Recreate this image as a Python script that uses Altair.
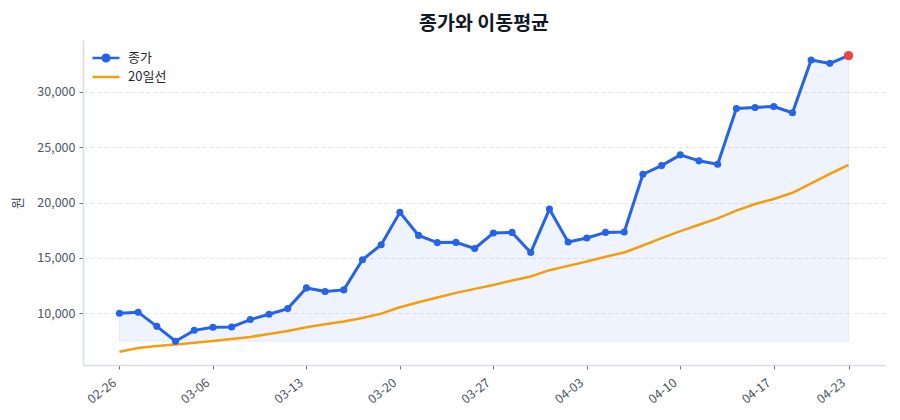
import altair as alt
import pandas as pd

dates = ["02-26", "02-27", "02-28", "03-04", "03-05", "03-06", "03-07", "03-10", "03-11", "03-12",
         "03-13", "03-14", "03-17", "03-18", "03-19", "03-20", "03-21", "03-24", "03-25", "03-26",
         "03-27", "03-28", "03-31", "04-01", "04-02", "04-03", "04-04", "04-07", "04-08", "04-09",
         "04-10", "04-11", "04-14", "04-15", "04-16", "04-17", "04-18", "04-21", "04-22", "04-23"]
close = [10000, 10100, 8820, 7480, 8460, 8730, 8760, 9430, 9910, 10420,
         12290, 11960, 12110, 14830, 16190, 19110, 17030, 16380, 16400, 15850,
         17240, 17300, 15490, 19410, 16430, 16790, 17300, 17330, 22550, 23330,
         24300, 23760, 23460, 28490, 28580, 28670, 28100, 32870, 32560, 33260]
ma20 = [6530, 6860, 7040, 7170, 7330, 7490, 7680, 7860, 8130, 8400,
        8730, 9000, 9250, 9580, 9970, 10540, 10990, 11420, 11840, 12200,
        12560, 12960, 13320, 13890, 14280, 14680, 15100, 15490, 16120, 16790,
        17420, 17990, 18570, 19260, 19860, 20320, 20880, 21720, 22580, 23400]
x_tick_idx = [0, 5, 10, 15, 20, 25, 30, 35, 39]
y_ticks = [10000, 15000, 20000, 25000, 30000]
series_names = ["종가", "20일선"]

FONT = "Noto Sans CJK KR"
BLUE = "#2563eb"
ORANGE = "#f59e0b"
RED = "#ef4444"

df = pd.DataFrame({"idx": list(range(len(dates))), "date": dates, "close": close, "ma20": ma20})
df["series"] = series_names[0]
last = df.iloc[[-1]]

label_arr = "[" + ",".join("'%s'" % d for d in dates) + "]"
xscale = alt.Scale(domain=[-1.95, 40.95], nice=False, zero=False)
xaxis = alt.Axis(values=x_tick_idx, labelExpr=label_arr + "[datum.value]", labelAngle=-38,
                 labelAlign="right", labelBaseline="top", labelOffset=-9, labelPadding=7,
                 grid=False, title=None)
xenc = alt.X("idx:Q", scale=xscale, axis=xaxis)
yscale = alt.Scale(domain=[5330, 34670], nice=False, zero=False)
yaxis = alt.Axis(values=y_ticks, format=",.0f", title="원", titleAngle=-90,
                 titlePadding=12, labelPadding=4, grid=True)


def yenc(field):
    return alt.Y(field, scale=yscale, axis=yaxis)


base = alt.Chart(df)

area = base.transform_joinaggregate(mn="min(close)").mark_area(
    color=BLUE, fillOpacity=0.08, stroke=BLUE, strokeOpacity=0.08, strokeWidth=1
).encode(x=xenc, y=yenc("close:Q"), y2="mn:Q")

ma_line = base.mark_line(color=ORANGE, strokeWidth=2.5).encode(x=xenc, y=yenc("ma20:Q"))

close_line = base.mark_line(color=BLUE, strokeWidth=3).encode(x=xenc, y=yenc("close:Q"))

close_pts = base.mark_circle(color=BLUE, size=50, opacity=1).encode(x=xenc, y=yenc("close:Q"))

last_pt = alt.Chart(last).mark_circle(color=RED, size=85, opacity=1).encode(
    x=xenc, y=yenc("close:Q"))

leg_paths = ["M-2,0L2,0M-0.5,0A0.5,0.5,0,1,1,0.5,0A0.5,0.5,0,1,1,-0.5,0Z", "M-2,0L2,0"]
leg = alt.Legend(title=None, orient="none", legendX=15, legendY=10, padding=0,
                 labelFontSize=13, labelColor="#1f2937", labelFont=FONT,
                 symbolSize=182, symbolStrokeWidth=2.5, symbolOpacity=1,
                 labelOffset=14, rowPadding=2)
legend_layer = base.transform_filter("datum.close < 0").mark_point(filled=True, opacity=1).encode(
    x=xenc, y=yenc("close:Q"),
    fill=alt.Fill("series:N", scale=alt.Scale(domain=series_names, range=[BLUE, ORANGE]), legend=leg),
    stroke=alt.Stroke("series:N", scale=alt.Scale(domain=series_names, range=[BLUE, ORANGE]), legend=leg),
    shape=alt.Shape("series:N", scale=alt.Scale(domain=series_names, range=leg_paths), legend=leg),
)

chart = alt.layer(area, ma_line, close_line, close_pts, last_pt, legend_layer).properties(
    width=802, height=325,
    autosize=alt.AutoSizeParams(type="none"),
    padding={"left": 83, "top": 40, "right": 15, "bottom": 55},
    title=alt.TitleParams("종가와 이동평균", font=FONT, fontSize=19.5, fontWeight="bold",
                          color="#111827", anchor="middle", offset=6),
).configure(font=FONT).configure_view(stroke=None).configure_axis(
    labelFont=FONT, titleFont=FONT, labelFontSize=12.5, labelColor="#4b5563",
    titleFontSize=13, titleColor="#374151", titleFontWeight="normal",
    domainColor="#d7dbe2", domainWidth=1.5, tickColor="#6b7280", tickSize=4,
    gridColor="#e5e7eb", gridDash=[4, 3], gridWidth=1,
)

chart.save("out.html", embed_options={"renderer": "svg", "actions": False})
